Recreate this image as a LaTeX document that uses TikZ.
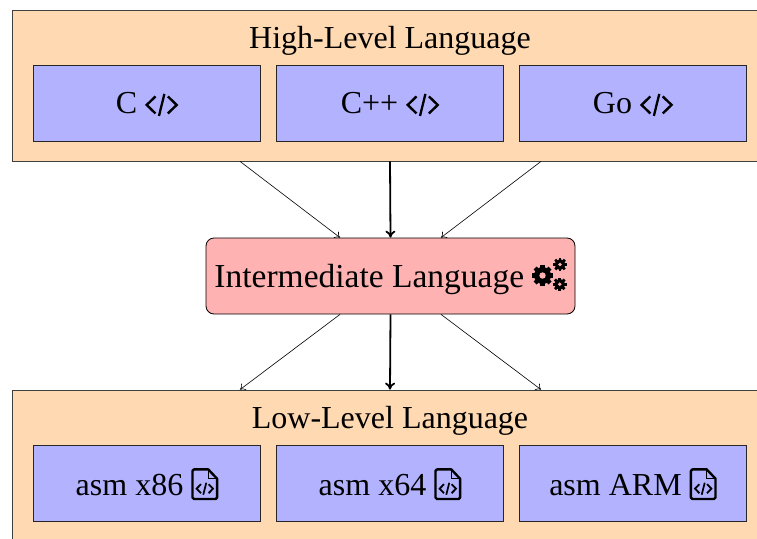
\documentclass[tikz,border=0pt]{standalone}
\usepackage{fontspec}
\setmainfont{Liberation Serif}
\usetikzlibrary{calc,arrows.meta}
\colorlet{peach}{orange!30!white}
\colorlet{lav}{blue!30!white}
\colorlet{rose}{red!30!white}
\tikzset{
  x=1pt,y=-1pt,
  labelfont/.style={font=\fontsize{32}{36}\selectfont},
  outerbox/.style={draw=black!75,fill=peach,line width=0.8pt,inner sep=0pt,minimum width=756pt,minimum height=151pt},
  langbox/.style={draw=black!85,fill=lav,line width=0.8pt,inner sep=0pt,minimum width=227.5pt,minimum height=76pt,labelfont},
  midbox/.style={draw=black,fill=rose,line width=0.8pt,rounded corners=8pt,inner sep=0pt,minimum width=369pt,minimum height=76pt,font=\fontsize{33.5}{38}\selectfont},
  title/.style={inner sep=0pt,labelfont},
  thinarrow/.style={-{Computer Modern Rightarrow[width=8pt,length=5pt]},line width=0.6pt},
  thickarrow/.style={-{Computer Modern Rightarrow[width=10pt,length=7pt]},line width=1.8pt},
  iconstroke/.style={draw=black,sharp corners,line cap=butt,line join=miter}
}
\newcommand{\nudged}[1]{\raisebox{-1.2pt}[\height][\depth]{#1}}
\newcommand{\iconCode}{\tikz[baseline={(0,8.7)}]{%
  \path[use as bounding box] (-16.5,-11) rectangle (16.5,11);
  \draw[iconstroke,line width=2.4pt] (-6.2,-8.5) -- (-15,0) -- (-6.2,8.5);
  \draw[iconstroke,line width=2.4pt] (6.2,-8.5) -- (15,0) -- (6.2,8.5);
  \draw[iconstroke,line width=2.3pt] (2.7,-11) -- (-2.7,11);
}}
\newcommand{\iconFile}{\tikz[baseline={(0,11)}]{%
  \path[use as bounding box] (-13.5,-16) rectangle (13.5,16);
  \draw[iconstroke,line width=2.4pt,line join=round] (3.5,-14.8) -- (-10.8,-14.8) -- (-12.3,-13.3) -- (-12.3,13.3) -- (-10.8,14.8) -- (10.8,14.8) -- (12.3,13.3) -- (12.3,-5.5) -- cycle;
  \draw[iconstroke,line width=1.5pt] (3.5,-14.8) -- (3.5,-5.5) -- (12.3,-5.5);
  \draw[iconstroke,line width=1.8pt] (-3.8,0) -- (-8.2,4.5) -- (-3.8,9);
  \draw[iconstroke,line width=1.8pt] (3.8,0) -- (8.2,4.5) -- (3.8,9);
  \draw[iconstroke,line width=1.7pt] (1.5,-1.5) -- (-1.5,10.5);
}}
\newcommand{\onegear}[4]{% x, y, radius, hole radius
  \fill[sharp corners] (#1,#2) circle[radius=#3*0.8];
  \foreach \a in {0,45,90,135}{
    \draw[sharp corners,line cap=butt,line width=#3*0.4pt] ($(#1,#2)+(\a:#3)$) -- ($(#1,#2)+(\a+180:#3)$);
  }
  \fill[rose,sharp corners] (#1,#2) circle[radius=#4];
}
\newcommand{\iconGears}{\tikz[baseline={(0,12.7)}]{%
  \path[use as bounding box] (-17,-17) rectangle (17,17);
  \onegear{-7}{1}{10.6}{3.2}
  \onegear{10.5}{-10}{6.8}{1.9}
  \onegear{10.2}{9.8}{6.8}{1.9}
}}
\begin{document}
\begin{tikzpicture}
\useasboundingbox (0,0) rectangle (757,538);
\clip (0,0) rectangle (757,538);
\node[outerbox] (hi) at (390,85.5) {};
\node[title] (hit) at (390,41) {High-Level Language};
\node[langbox] (c) at (147,103) {\nudged{C \iconCode}};
\node[langbox] (cpp) at (390,103) {\nudged{C++ \iconCode}};
\node[langbox] (go) at (633,103) {\nudged{Go \iconCode}};
\node[midbox] (il) at (390.5,276) {Intermediate Language \iconGears};
\node[outerbox] (lo) at (390,465.5) {};
\node[title] (lot) at (390,421) {Low-Level Language};
\node[langbox] (x86) at (147,483) {\nudged{asm x86 \iconFile}};
\node[langbox] (x64) at (390,483) {\nudged{asm x64 \iconFile}};
\node[langbox] (arm) at (633,483) {\nudged{asm ARM \iconFile}};
\draw[thinarrow] ($(hi.south)+(-150,0)$) -- ($(il.north)+(-50.5,0)$);
\draw[thickarrow] (hi.south) -- (il.north);
\draw[thinarrow] ($(hi.south)+(151,0)$) -- ($(il.north)+(50.5,0)$);
\draw[thinarrow] ($(il.south)+(-50.5,0)$) -- ($(lo.north)+(-150,0)$);
\draw[thickarrow] (il.south) -- (lo.north);
\draw[thinarrow] ($(il.south)+(50.5,0)$) -- ($(lo.north)+(151,0)$);
\end{tikzpicture}
\end{document}
